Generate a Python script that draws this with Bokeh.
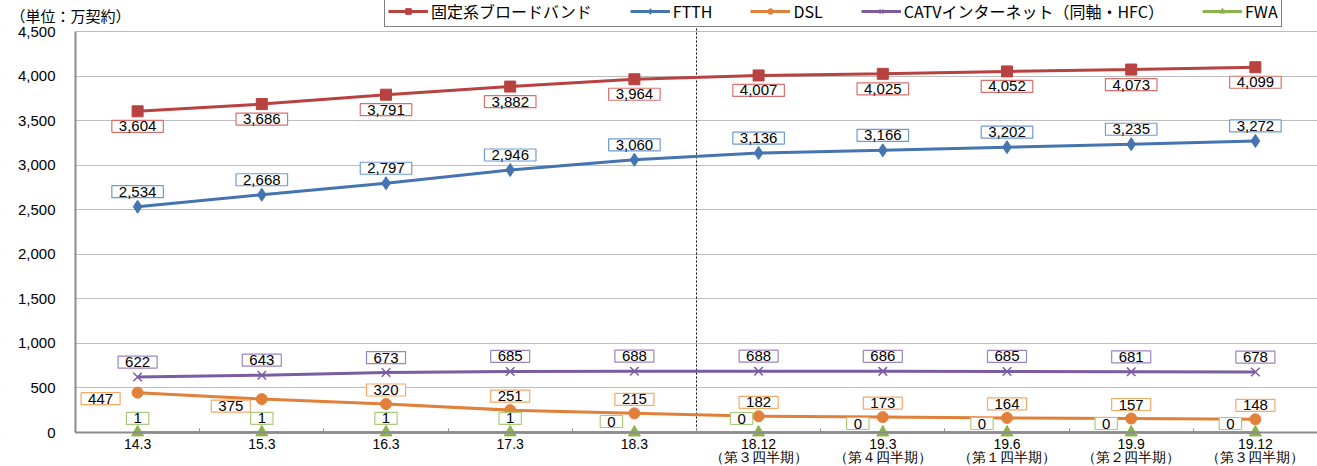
from bokeh.plotting import figure
from bokeh.models import (Range1d, FixedTicker, NumeralTickFormatter, Span, Label,
                          Legend, LegendItem, BoxAnnotation)
from bokeh.embed import file_html
from bokeh.resources import INLINE

# ---------------- data ----------------
categories = ["14.3", "15.3", "16.3", "17.3", "18.3",
              "18.12\n（第３四半期）", "19.3\n（第４四半期）", "19.6\n（第１四半期）",
              "19.9\n（第２四半期）", "19.12\n（第３四半期）"]
fixed_bb = [3604, 3686, 3791, 3882, 3964, 4007, 4025, 4052, 4073, 4099]
ftth = [2534, 2668, 2797, 2946, 3060, 3136, 3166, 3202, 3235, 3272]
dsl = [447, 375, 320, 251, 215, 182, 173, 164, 157, 148]
catv = [622, 643, 673, 685, 688, 688, 686, 685, 681, 678]
fwa = [1, 1, 1, 1, 0, 0, 0, 0, 0, 0]

series_names = ["固定系ブロードバンド", "FTTH", "DSL", "CATVインターネット（同軸・HFC）", "FWA"]
unit_text = "（単位：万契約）"
y_ticks = list(range(0, 4501, 500))

# ---------------- styling / layout ----------------
JP = "Noto Sans CJK JP"
NUM = "Liberation Sans"
RED, RED_B = "#B8423F", "#D9706D"
BLUE, BLUE_B = "#4574B0", "#6E9BD2"
ORG, ORG_B = "#E0803A", "#F6A866"
PUR, PUR_B = "#7A5CA0", "#9C84C0"
GRN, GRN_B = "#8CB14E", "#A9CB7E"

W, H = 1317, 466
TOP_PX, ZERO_PX = 31, 432        # canvas y of the 4,500 and 0 gridlines
AXIS_X = 75                      # canvas x of the y axis
n = len(categories)
per_px = 4500 / (ZERO_PX - TOP_PX)
Y_START = -(H - ZERO_PX) * per_px
Y_END = 4500 + TOP_PX * per_px
unit_px = (W - AXIS_X) / n
X_START = -0.5 - AXIS_X / unit_px

x = list(range(n))

p = figure(width=W, height=H, output_backend="svg", toolbar_location=None,
           x_range=Range1d(X_START, n - 0.5), y_range=Range1d(Y_START, Y_END),
           min_border_left=0, min_border_right=0, min_border_top=0, min_border_bottom=0)
p.outline_line_color = None
p.background_fill_color = "white"

# axes (pinned inside the frame)
p.yaxis.fixed_location = -0.5
p.yaxis.ticker = FixedTicker(ticks=y_ticks)
p.yaxis.bounds = (0, 4500)
p.yaxis.formatter = NumeralTickFormatter(format="0,0")
p.yaxis.major_label_text_font = NUM
p.yaxis.major_label_text_font_size = "15px"
p.yaxis.major_label_text_color = "black"
p.yaxis.axis_line_color = "#8C8C8C"
p.yaxis.axis_line_width = 2
p.yaxis.major_tick_line_color = None
p.yaxis.minor_tick_line_color = None
p.yaxis.major_tick_out = 0
p.yaxis.major_label_standoff = 20

p.xaxis.fixed_location = 0
p.xaxis.ticker = FixedTicker(ticks=x, minor_ticks=[i + 0.5 for i in range(-1, n)])
p.xaxis.bounds = (-0.5, n - 0.5)
p.xaxis.major_label_overrides = {i: c for i, c in enumerate(categories)}
p.xaxis.major_label_text_font = NUM
p.xaxis.major_label_text_font_size = "14px"
p.xaxis.major_label_text_color = "black"
p.xaxis.major_label_text_line_height = 0.82
p.xaxis.axis_line_color = "#8C8C8C"
p.xaxis.axis_line_width = 2
p.xaxis.major_tick_line_color = None
p.xaxis.major_tick_out = 0
p.xaxis.major_tick_in = 0
p.xaxis.minor_tick_line_color = "#8C8C8C"
p.xaxis.minor_tick_in = 4
p.xaxis.minor_tick_out = 0
p.xaxis.major_label_standoff = 3

p.xgrid.grid_line_color = None
p.ygrid.grid_line_color = "#BDBDBD"
p.ygrid.grid_line_width = 1

# dashed divider between annual and quarterly data
p.add_layout(Span(location=4.5, dimension="height", line_color="black",
                  line_dash="2 2", line_width=1, level="underlay"))
# mask the plot margins so grid / divider stay inside the axes
p.add_layout(BoxAnnotation(right=-0.5, fill_color="white", fill_alpha=1.0,
                           line_color=None, level="underlay"))
p.add_layout(BoxAnnotation(top=0, fill_color="white", fill_alpha=1.0,
                           line_color=None, level="underlay"))

# series
r_fixed_l = p.line(x, fixed_bb, color=RED, line_width=3)
r_fixed_m = p.scatter(x, fixed_bb, marker="square", size=11, color=RED)
r_ftth_l = p.line(x, ftth, color=BLUE, line_width=3)
r_ftth_m = p.scatter(x, ftth, marker="diamond", size=13, color=BLUE)
r_dsl_l = p.line(x, dsl, color=ORG, line_width=3)
r_dsl_m = p.scatter(x, dsl, marker="circle", size=11, color=ORG)
r_catv_l = p.line(x, catv, color=PUR, line_width=3)
r_catv_m = p.scatter(x, catv, marker="x", size=12, line_color=PUR, line_width=1.5)
r_fwa_l = p.line(x, fwa, color=GRN, line_width=3)
r_fwa_m = p.scatter(x, fwa, marker="triangle", size=12, color=GRN)

# data labels (offsets in screen px)
def add_labels(vals, border, offsets):
    for i, v in enumerate(vals):
        dx, dy = offsets[i]
        p.add_layout(Label(x=x[i], y=v, text=f"{v:,}", x_offset=dx, y_offset=dy,
                           text_align="center", text_baseline="middle",
                           text_font=NUM, text_font_size="15px", text_color="black",
                           background_fill_color="white", border_line_color=border,
                           border_line_width=1.2, padding=(7, 1)))

add_labels(fixed_bb, RED_B, [(0, -15)] * n)
add_labels(ftth, BLUE_B, [(0, 15)] * n)
add_labels(catv, PUR_B, [(0, 15)] * n)
add_labels(dsl, ORG_B, [(-37, -6), (-31, -7)] + [(0, 14)] * (n - 2))
add_labels(fwa, GRN_B, [(0, 14)] * 4 + [(-23, 11), (-17, 14)] + [(-25, 9)] * 4)

# unit label
p.add_layout(Label(x=10, y=4500, x_units="screen", y_offset=16,
                   text=unit_text, text_font=JP, text_font_size="15px",
                   text_baseline="middle", text_align="left", text_color="black"))

# legend
legend = Legend(items=[
    LegendItem(label=series_names[0], renderers=[r_fixed_l, r_fixed_m]),
    LegendItem(label=series_names[1], renderers=[r_ftth_l, r_ftth_m]),
    LegendItem(label=series_names[2], renderers=[r_dsl_l, r_dsl_m]),
    LegendItem(label=series_names[3], renderers=[r_catv_l, r_catv_m]),
    LegendItem(label=series_names[4], renderers=[r_fwa_l, r_fwa_m]),
], orientation="horizontal", location=(384, H - 27),
   label_text_font=JP, label_text_font_size="16px", label_text_color="black",
   glyph_width=40, glyph_height=14, label_standoff=3, spacing=38, padding=3,
   margin=0, border_line_color="black", border_line_width=1,
   background_fill_color="white", background_fill_alpha=1.0,
   label_height=16)
p.add_layout(legend)

open("out.html", "w").write(file_html(p, INLINE))
